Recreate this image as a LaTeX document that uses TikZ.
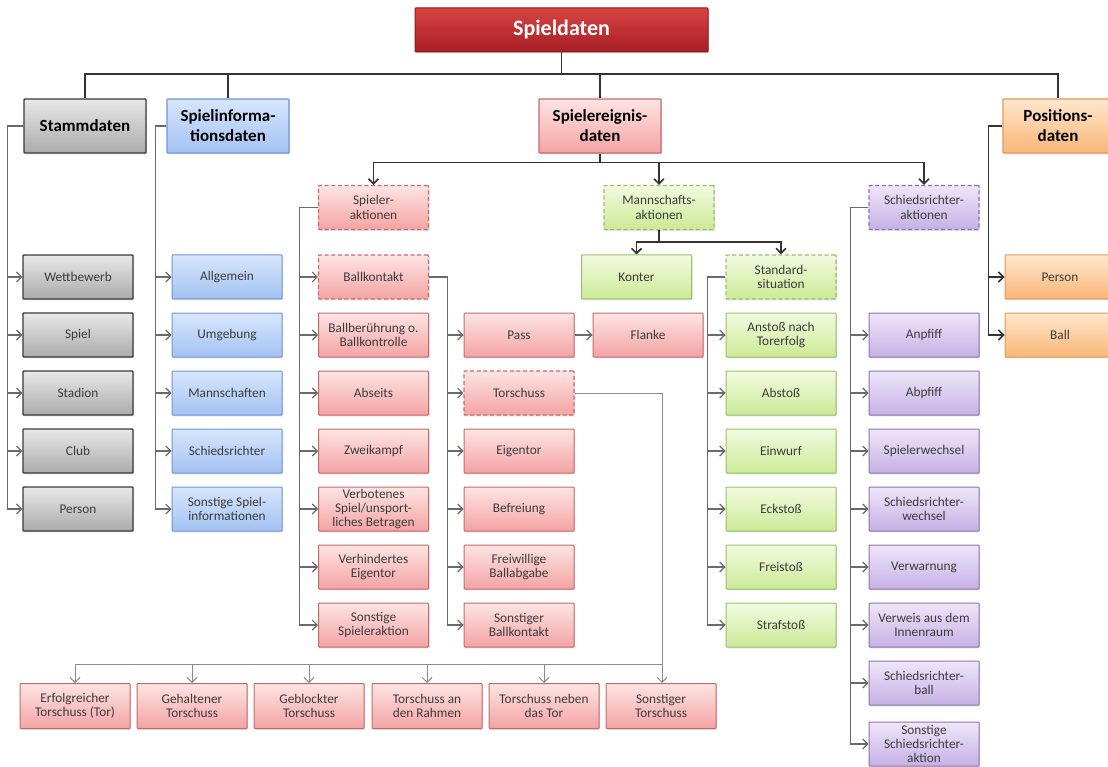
\documentclass[tikz,border=0pt]{standalone}
\usepackage{fontspec}
\setmainfont{Carlito}
\usetikzlibrary{arrows.meta,shadows}

\definecolor{txt}{HTML}{3C3C3C}
\definecolor{tl}{HTML}{333333}
\definecolor{sl}{HTML}{6A6A6A}
\definecolor{ll}{HTML}{8C8C8C}
\definecolor{g1}{HTML}{E8E8E8}\definecolor{g2}{HTML}{ABABAB}\definecolor{gd}{HTML}{3A3A3A}
\definecolor{b1}{HTML}{D7E6FC}\definecolor{b2}{HTML}{A3C2F2}\definecolor{bd}{HTML}{7097D6}
\definecolor{r1}{HTML}{FDE4E4}\definecolor{r2}{HTML}{F4A3A3}\definecolor{rd}{HTML}{C86A6A}
\definecolor{n1}{HTML}{F2FAE0}\definecolor{n2}{HTML}{CCEA96}\definecolor{nd}{HTML}{95C268}
\definecolor{p1}{HTML}{EFE6F9}\definecolor{p2}{HTML}{C6B0E5}\definecolor{pd}{HTML}{8E74AE}
\definecolor{o1}{HTML}{FEE7CE}\definecolor{o2}{HTML}{F9B676}\definecolor{od}{HTML}{E29A55}
\definecolor{m1}{HTML}{DA4343}\definecolor{m2}{HTML}{A51E24}\definecolor{md}{HTML}{8A1A1D}

\tikzset{
  base/.style={rectangle, rounded corners=0.8pt, align=center, inner sep=1pt,
    line width=1pt, drop shadow={opacity=0.25, shadow xshift=1pt, shadow yshift=-1.3pt}},
  item/.style={base, minimum width=110pt, minimum height=44pt, text=txt,
    font=\fontsize{13.3}{14.2}\selectfont},
  head/.style={base, minimum width=122pt, minimum height=54pt, text=black,
    font=\bfseries\fontsize{17}{20}\selectfont, line width=1.2pt},
  grayc/.style={top color=g1, bottom color=g2, draw=gd, line width=1.4pt},
  bluec/.style={top color=b1, bottom color=b2, draw=bd},
  redc/.style={top color=r1, bottom color=r2, draw=rd},
  greenc/.style={top color=n1, bottom color=n2, draw=nd},
  purplec/.style={top color=p1, bottom color=p2, draw=pd},
  orangec/.style={top color=o1, bottom color=o2, draw=od},
  grp/.style={dash pattern=on 4pt off 2.6pt, line width=1.2pt},
  tip/.style={-{Straight Barb[length=5pt,width=10pt]}},
  tree/.style={draw=tl, line width=1.6pt},
  treearr/.style={tree, tip},
  sub/.style={draw=sl, line width=1.1pt, tip},
  shot/.style={draw=ll, line width=0.9pt},
  shotarr/.style={shot, tip},
}

\begin{document}
\begin{tikzpicture}[x=1pt,y=-1pt]
\useasboundingbox (0,0) rectangle (1108,767);
\clip (0,0) rectangle (1108,767);
\fill[white] (0,0) rectangle (1108,767);

% root and main categories
\node[base, minimum width=293pt, minimum height=44pt, top color=m1, bottom color=m2,
      draw=md, text=white, font=\bfseries\fontsize{22}{24}\selectfont] (root) at (561.5,30) {Spieldaten};
\node[head, grayc]   (stamm)  at (85,126)   {Stammdaten};
\node[head, bluec]   (sinfo)  at (228,126)  {Spielinforma-\\tionsdaten};
\node[head, redc]    (sereig) at (600,126)  {Spielereignis-\\daten};
\node[head, orangec, minimum width=110pt] (posd) at (1058,126) {Positions-\\daten};

\coordinate (bus) at (561.5,74);
\draw[tree] (root.south) -- (bus);
\draw[tree] (bus) -| (stamm.north);
\draw[tree] (bus) -| (sinfo.north);
\draw[tree] (bus) -| (sereig.north);
\draw[tree] (bus) -| (posd.north);

% Stammdaten
\node[item, grayc] (wett) at (78,277) {Wettbewerb};
\node[item, grayc] (spiel) at (78,335) {Spiel};
\node[item, grayc] (stad) at (78,393) {Stadion};
\node[item, grayc] (club) at (78,451) {Club};
\node[item, grayc] (pers) at (78,509) {Person};
\foreach \c in {wett,spiel,stad,club,pers}
  \draw[sub] (stamm.west) -- ++(-16,0) |- (\c.west);

% Spielinformationsdaten
\node[item, bluec] (allg) at (227,277) {Allgemein};
\node[item, bluec] (umg) at (227,335) {Umgebung};
\node[item, bluec] (mann) at (227,393) {Mannschaften};
\node[item, bluec] (schri) at (227,451) {Schiedsrichter};
\node[item, bluec] (sonsi) at (227,509) {Sonstige Spiel-\\informationen};
\foreach \c in {allg,umg,mann,schri,sonsi}
  \draw[sub] (sinfo.west) -- ++(-11,0) |- (\c.west);

% Spielereignisdaten: groups
\node[item, redc, grp]    (spact) at (373.5,207.5) {Spieler-\\aktionen};
\node[item, greenc, grp]  (mact)  at (659,207.5)   {Mannschafts-\\aktionen};
\node[item, purplec, grp] (sact)  at (924,207.5)   {Schiedsrichter-\\aktionen};
\draw[treearr] (sereig.south) -- ++(0,9) -| (spact.north);
\draw[treearr] (sereig.south) -- ++(0,9) -| (mact.north);
\draw[treearr] (sereig.south) -- ++(0,9) -| (sact.north);

% Spieleraktionen
\node[item, redc, grp] (bk) at (373.5,277) {Ballkontakt};
\node[item, redc] (bber) at (373.5,335) {Ballberührung o.\\Ballkontrolle};
\node[item, redc] (abs) at (373.5,393) {Abseits};
\node[item, redc] (zwk) at (373.5,451) {Zweikampf};
\node[item, redc] (verb) at (373.5,509) {Verbotenes\\Spiel/unsport-\\liches Betragen};
\node[item, redc] (verh) at (373.5,567) {Verhindertes\\Eigentor};
\node[item, redc] (sspa) at (373.5,625) {Sonstige\\Spieleraktion};
\foreach \c in {bk,bber,abs,zwk,verb,verh,sspa}
  \draw[sub] (spact.west) -- ++(-18,0) |- (\c.west);

% Ballkontakt
\node[item, redc] (pass) at (519,335) {Pass};
\node[item, redc, grp] (tor) at (519,393) {Torschuss};
\node[item, redc] (eig) at (519,451) {Eigentor};
\node[item, redc] (bef) at (519,509) {Befreiung};
\node[item, redc] (frei) at (519,567) {Freiwillige\\Ballabgabe};
\node[item, redc] (sbk) at (519,625) {Sonstiger\\Ballkontakt};
\foreach \c in {pass,tor,eig,bef,frei,sbk}
  \draw[sub] (bk.east) -- ++(18,0) |- (\c.west);

\node[item, redc] (flanke) at (648,335) {Flanke};
\draw[sub] (pass.east) -- (flanke.west);

% Torschuss outcomes
\node[item, redc, minimum height=45pt] (t1) at (75,706)  {Erfolgreicher\\Torschuss (Tor)};
\node[item, redc, minimum height=45pt] (t2) at (192,706) {Gehaltener\\Torschuss};
\node[item, redc, minimum height=45pt] (t3) at (309,706) {Geblockter\\Torschuss};
\node[item, redc, minimum height=45pt] (t4) at (427,706) {Torschuss an\\den Rahmen};
\node[item, redc, minimum height=45pt] (t5) at (544,706) {Torschuss neben\\das Tor};
\node[item, redc, minimum height=45pt] (t6) at (661,706) {Sonstiger\\Torschuss};
\coordinate (tbus) at (662,664);
\draw[shot] (tor.east) -| (tbus);
\foreach \c in {t1,t2,t3,t4,t5}
  \draw[shotarr] (tbus) -| (\c.north);
\draw[shotarr] (tbus) -- (tbus |- t6.north);

% Mannschaftsaktionen
\node[item, greenc] (konter) at (636.5,277) {Konter};
\node[item, greenc, grp] (std) at (781,277) {Standard-\\situation};
\draw[treearr] (mact.south) -- ++(0,12) -| (konter.north);
\draw[treearr] (mact.south) -- ++(0,12) -| (std.north);

\node[item, greenc] (anst) at (781,335) {Anstoß nach\\Torerfolg};
\node[item, greenc] (abst) at (781,393) {Abstoß};
\node[item, greenc] (einw) at (781,451) {Einwurf};
\node[item, greenc] (eck) at (781,509) {Eckstoß};
\node[item, greenc] (frst) at (781,567) {Freistoß};
\node[item, greenc] (strf) at (781,625) {Strafstoß};
\foreach \c in {anst,abst,einw,eck,frst,strf}
  \draw[sub] (std.west) -- ++(-18,0) |- (\c.west);

% Schiedsrichteraktionen
\node[item, purplec] (anpf) at (924,335) {Anpfiff};
\node[item, purplec] (abpf) at (924,393) {Abpfiff};
\node[item, purplec] (spw) at (924,451) {Spielerwechsel};
\node[item, purplec] (srw) at (924,509) {Schiedsrichter-\\wechsel};
\node[item, purplec] (verw) at (924,567) {Verwarnung};
\node[item, purplec] (verwe) at (924,625) {Verweis aus dem\\Innenraum};
\node[item, purplec] (srb) at (924,683) {Schiedsrichter-\\ball};
\node[item, purplec] (ssra) at (924,744) {Sonstige\\Schiedsrichter-\\aktion};
\foreach \c in {anpf,abpf,spw,srw,verw,verwe,srb,ssra}
  \draw[sub] (sact.west) -- ++(-18,0) |- (\c.west);

% Positionsdaten
\node[item, orangec] (ppers) at (1060,277) {Person};
\node[item, orangec] (pball) at (1060,335) {Ball};
\draw[treearr] (posd.west) -- ++(-14,0) |- (ppers.west);
\draw[treearr] (posd.west) -- ++(-14,0) |- (pball.west);
\end{tikzpicture}
\end{document}
